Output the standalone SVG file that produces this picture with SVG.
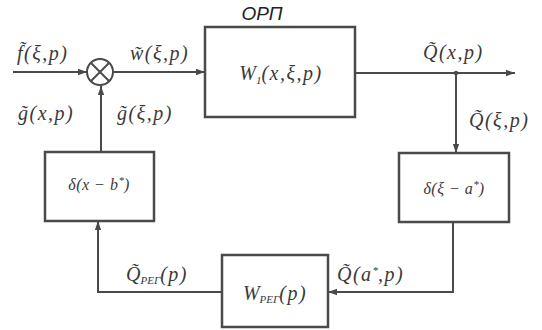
<svg xmlns="http://www.w3.org/2000/svg" width="542" height="330" viewBox="0 0 542 330">
<style>
.ln{fill:none;stroke:#4a4a4a;stroke-width:2}
.bx{fill:#fff;stroke:#4a4a4a;stroke-width:2.5}
.t{font-family:"Liberation Serif","DejaVu Serif",serif;font-style:italic;font-size:20px;letter-spacing:1.5px;fill:#3a3a3a}
.s{font-size:11px;letter-spacing:0}
.sm{font-size:16px;letter-spacing:0.5px}
.n{letter-spacing:0}
</style>
<defs>
<marker id="a" viewBox="0 0 10 10" refX="10" refY="5" markerWidth="9" markerHeight="9" markerUnits="userSpaceOnUse" orient="auto"><path d="M0,1.5 L10,5 L0,8.5 z" fill="#4a4a4a"/></marker>
</defs>
<rect width="542" height="330" fill="#fff"/>
<g id="connectors">
<line class="ln" x1="13" y1="72" x2="87" y2="72" marker-end="url(#a)"/>
<line class="ln" x1="113" y1="72" x2="205" y2="72" marker-end="url(#a)"/>
<line class="ln" x1="355" y1="73" x2="515" y2="73" marker-end="url(#a)"/>
<line class="ln" x1="456" y1="73" x2="456" y2="153" marker-end="url(#a)"/>
<circle cx="456" cy="73" r="2.2" fill="#4a4a4a"/>
<polyline class="ln" points="453,222 453,292 328,292" marker-end="url(#a)"/>
<polyline class="ln" points="222,292 98,292 98,221" marker-end="url(#a)"/>
<line class="ln" x1="101" y1="152" x2="101" y2="86" marker-end="url(#a)"/>
</g>
<g id="sum">
<circle cx="100" cy="72" r="13" fill="#fff" stroke="#4a4a4a" stroke-width="2"/>
<line class="ln" x1="91" y1="63" x2="109" y2="81"/>
<line class="ln" x1="109" y1="63" x2="91" y2="81"/>
</g>
<g id="orp">
<rect class="bx" x="205" y="27" width="150" height="90"/>
<text x="262" y="20" text-anchor="middle" font-family="Liberation Sans,sans-serif" font-style="italic" font-size="19" fill="#222">ОРП</text>
<text class="t" x="281" y="80" text-anchor="middle"><tspan class="n">W</tspan><tspan class="s" dy="4">1</tspan><tspan dy="-4">(x,ξ,p)</tspan></text>
</g>
<g id="delta-a">
<rect class="bx" x="399" y="153" width="110" height="69"/>
<text class="t sm" x="454" y="194" text-anchor="middle">δ(ξ − a<tspan class="s" dy="-6">*</tspan><tspan dy="6">)</tspan></text>
</g>
<g id="delta-b">
<rect class="bx" x="45" y="152" width="109" height="69"/>
<text class="t sm" x="99" y="190" text-anchor="middle">δ(x − b<tspan class="s" dy="-6">*</tspan><tspan dy="6">)</tspan></text>
</g>
<g id="wreg">
<rect class="bx" x="222" y="255" width="106" height="72"/>
<text class="t" x="275" y="300" text-anchor="middle"><tspan class="n">W</tspan><tspan class="s" dy="3">PEГ</tspan><tspan dy="-3">(p)</tspan></text>
</g>
<g id="labels">
<text class="t" x="17" y="60">f̃(ξ,p)</text>
<text class="t" x="130" y="60">w̃(ξ,p)</text>
<text class="t" x="18" y="120">g̃(x,p)</text>
<text class="t" x="117" y="120">g̃(ξ,p)</text>
<text class="t" x="423" y="59">Q̃(x,p)</text>
<text class="t" x="469" y="127">Q̃(ξ,p)</text>
<text class="t" x="126" y="281"><tspan class="n">Q̃</tspan><tspan class="s" dy="3">PEГ</tspan><tspan dy="-3">(p)</tspan></text>
<text class="t" x="337" y="281">Q̃(a<tspan class="s" dy="-7">*</tspan><tspan dy="7">,p)</tspan></text>
</g>
</svg>
